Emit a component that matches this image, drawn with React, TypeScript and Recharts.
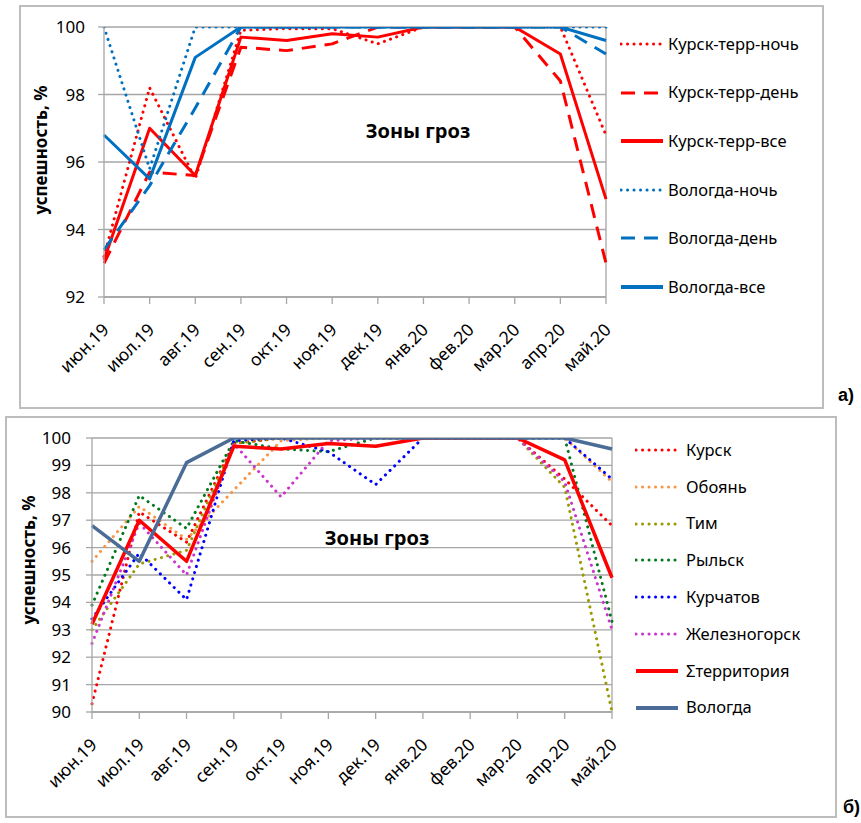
import React from 'react';
import { LineChart, Line, XAxis, YAxis, CartesianGrid, Legend, ReferenceLine, Label } from 'recharts';

// ---------- shared categories ----------
const months = ['июн.19', 'июл.19', 'авг.19', 'сен.19', 'окт.19', 'ноя.19', 'дек.19', 'янв.20', 'фев.20', 'мар.20', 'апр.20', 'май.20'];

// ---------- chart a ----------
const kurskTerrNight = [93.2, 98.2, 95.5, 99.9, 99.95, 99.95, 99.5, 100, 100, 100, 100, 96.8];
const kurskTerrDay = [93.0, 95.7, 95.6, 99.4, 99.3, 99.5, 100, 100, 100, 100, 98.4, 93.0];
const kurskTerrAll = [93.1, 97.0, 95.6, 99.7, 99.6, 99.8, 99.7, 100, 100, 100, 99.2, 94.9];
const vologdaNight = [100, 95.8, 100, 100, 100, 100, 100, 100, 100, 100, 100, 100];
const vologdaDay = [93.4, 95.3, 97.6, 100, 100, 100, 100, 100, 100, 100, 100, 99.2];
const vologdaAll = [96.8, 95.5, 99.1, 100, 100, 100, 100, 100, 100, 100, 100, 99.6];
const ticksA = [92, 94, 96, 98, 100];

// ---------- chart б ----------
const kursk = [90.3, 97.3, 96.2, 99.8, 100, 100, 100, 100, 100, 100, 98.5, 96.8];
const oboyan = [95.5, 97.5, 96.3, 98.1, 99.9, 100, 100, 100, 100, 100, 100, 98.4];
const tim = [93.0, 95.4, 95.9, 99.8, 100, 100, 100, 100, 100, 100, 98.2, 90.0];
const rylsk = [93.9, 97.9, 96.7, 99.9, 99.6, 99.5, 100, 100, 100, 100, 100, 93.3];
const kurchatov = [93.4, 95.8, 94.1, 99.9, 100, 99.5, 98.3, 100, 100, 100, 100, 98.5];
const zheleznogorsk = [92.5, 96.9, 95.0, 99.8, 97.85, 99.9, 100, 100, 100, 100, 98.4, 93.0];
const territory = [93.2, 97.0, 95.5, 99.7, 99.6, 99.8, 99.7, 100, 100, 100, 99.2, 94.9];
const vologda = [96.8, 95.5, 99.1, 100, 100, 100, 100, 100, 100, 100, 100, 99.6];
const ticksB = [90, 91, 92, 93, 94, 95, 96, 97, 98, 99, 100];

const FONT = '"Noto Sans", "DejaVu Sans", sans-serif';
const GRID = '#a6a6a6';
const DOT = '0.1 6.4';
const DASH = '14 9';

type S = { key: string; name: string; color: string; dash?: string; width: number; cap: 'round' | 'butt'; values: number[]; legendWidth?: number };

const seriesA: S[] = [
  { key: 'a1', name: 'Курск-терр-ночь', color: '#ff0000', dash: DOT, width: 3, cap: 'round', values: kurskTerrNight },
  { key: 'a2', name: 'Курск-терр-день', color: '#ff0000', dash: DASH, width: 3, cap: 'butt', values: kurskTerrDay },
  { key: 'a3', name: 'Курск-терр-все', color: '#ff0000', width: 3, cap: 'butt', values: kurskTerrAll, legendWidth: 4 },
  { key: 'a4', name: 'Вологда-ночь', color: '#0070c0', dash: DOT, width: 3, cap: 'round', values: vologdaNight },
  { key: 'a5', name: 'Вологда-день', color: '#0070c0', dash: DASH, width: 3, cap: 'butt', values: vologdaDay },
  { key: 'a6', name: 'Вологда-все', color: '#0070c0', width: 3, cap: 'butt', values: vologdaAll, legendWidth: 4 },
];

const seriesB: S[] = [
  { key: 'b1', name: 'Курск', color: '#ff0000', dash: DOT, width: 3, cap: 'round', values: kursk },
  { key: 'b2', name: 'Обоянь', color: '#f79646', dash: DOT, width: 3, cap: 'round', values: oboyan },
  { key: 'b3', name: 'Тим', color: '#999900', dash: DOT, width: 3, cap: 'round', values: tim },
  { key: 'b4', name: 'Рыльск', color: '#007a1f', dash: DOT, width: 3, cap: 'round', values: rylsk },
  { key: 'b5', name: 'Курчатов', color: '#0000ff', dash: DOT, width: 3, cap: 'round', values: kurchatov },
  { key: 'b6', name: 'Железногорск', color: '#cc33cc', dash: DOT, width: 3, cap: 'round', values: zheleznogorsk },
  { key: 'b7', name: 'Σтерритория', color: '#ff0000', width: 3.5, cap: 'butt', values: territory, legendWidth: 4 },
  { key: 'b8', name: 'Вологда', color: '#4a6c96', width: 3.5, cap: 'butt', values: vologda, legendWidth: 4 },
];

const buildRows = (series: S[]) =>
  months.map((m, i) => {
    const row: Record<string, any> = { month: m };
    series.forEach((s) => (row[s.key] = s.values[i]));
    return row;
  });

const dataA = buildRows(seriesA);
const dataB = buildRows(seriesB);

function XTick(props: any) {
  const { x, y, payload } = props;
  const ax = x + 6;
  const ay = y + 27;
  return (
    <text x={ax} y={ay} transform={`rotate(-45 ${ax} ${ay})`} textAnchor="end" fontFamily={FONT} fontSize={17.5} fill="#000">
      {payload.value}
    </text>
  );
}

function LegendBox({ items, rowH, gap }: { items: S[]; rowH: number; gap: number }) {
  return (
    <div style={{ fontFamily: FONT, fontSize: 16.5, color: '#000', lineHeight: 1 }}>
      {items.map((s) => (
        <div key={s.key} style={{ height: rowH, display: 'flex', alignItems: 'center', whiteSpace: 'nowrap' }}>
          <svg width={44} height={10} style={{ display: 'block' }}>
            <line x1={1} y1={5} x2={43} y2={5} stroke={s.color} strokeWidth={s.legendWidth ?? s.width} strokeDasharray={s.dash} strokeLinecap={s.cap} />
          </svg>
          <span style={{ marginLeft: gap }}>{s.name}</span>
        </div>
      ))}
    </div>
  );
}

function YTitle({ cx, cy }: { cx: number; cy: number }) {
  return (
    <text x={cx} y={cy} transform={`rotate(-90 ${cx} ${cy})`} textAnchor="middle" dominantBaseline="central" fontFamily={FONT} fontWeight="bold" fontSize={17} fill="#000">
      успешность, %
    </text>
  );
}

function PlotTitle({ cx, cy }: { cx: number; cy: number }) {
  return (
    <text x={cx} y={cy} textAnchor="middle" dominantBaseline="central" fontFamily={FONT} fontWeight="bold" fontSize={20} fill="#000">
      Зоны гроз
    </text>
  );
}

function Panel(props: {
  left: number; top: number; width: number; height: number;
  margin: { top: number; right: number; left: number; bottom: number };
  data: any[]; series: S[]; domain: [number, number]; ticks: number[]; tickMargin: number;
  legendLeft: number; legendTop: number; rowH: number; gap: number;
  yTitle: { cx: number; cy: number }; title: { cx: number; cy: number };
}) {
  const p = props;
  return (
    <>
      <div style={{ position: 'absolute', left: p.left - 1, top: p.top - 1, width: p.width + 2, height: p.height + 2, border: '2px solid #bdbdbd', boxSizing: 'border-box', background: '#fff' }} />
      <div style={{ position: 'absolute', left: p.left, top: p.top }}>
        <LineChart width={p.width} height={p.height} data={p.data} margin={p.margin}>
          <CartesianGrid vertical={false} stroke={GRID} strokeWidth={1.3} />
          <XAxis dataKey="month" interval={0} height={80} tick={<XTick />} tickSize={7} tickMargin={0} axisLine={{ stroke: GRID, strokeWidth: 1.3 }} tickLine={{ stroke: GRID, strokeWidth: 1.3 }}>
            <Label content={() => <PlotTitle cx={p.title.cx} cy={p.title.cy} />} />
          </XAxis>
          <YAxis domain={p.domain} ticks={p.ticks} interval={0} width={60} tickSize={6} tickMargin={p.tickMargin} allowDataOverflow axisLine={{ stroke: GRID, strokeWidth: 1.3 }} tickLine={{ stroke: GRID, strokeWidth: 1.3 }} tick={{ fontFamily: FONT, fontSize: 17, fill: '#000' }}>
            <Label content={() => <YTitle cx={p.yTitle.cx} cy={p.yTitle.cy} />} />
          </YAxis>
          <ReferenceLine x={months[months.length - 1]} stroke={GRID} strokeWidth={1.3} />
          {p.series.map((s) => (
            <Line key={s.key} type="linear" dataKey={s.key} name={s.name} stroke={s.color} strokeWidth={s.width} strokeDasharray={s.dash} strokeLinecap={s.cap} strokeLinejoin="round" dot={false} activeDot={false} isAnimationActive={false} />
          ))}
          <Legend layout="vertical" align="center" verticalAlign="middle" wrapperStyle={{ left: p.legendLeft, top: p.legendTop, width: 200 }} content={() => <LegendBox items={p.series} rowH={p.rowH} gap={p.gap} />} />
        </LineChart>
      </div>
    </>
  );
}

export default function App() {
  return (
    <div style={{ position: 'absolute', left: 0, top: 0, width: 861, height: 823, overflow: 'hidden', background: '#fff' }}>
      <Panel
        left={20} top={6} width={803} height={402}
        margin={{ top: 21, right: 217, left: 24, bottom: 31 }}
        data={dataA} series={seriesA} domain={[92, 100]} ticks={ticksA} tickMargin={13}
        legendLeft={600} legendTop={13.7} rowH={48.6} gap={4}
        yTitle={{ cx: 20, cy: 144 }} title={{ cx: 398, cy: 124 }}
      />
      <Panel
        left={6} top={417} width={830} height={400}
        margin={{ top: 21, right: 224, left: 26, bottom: 25 }}
        data={dataB} series={seriesB} domain={[90, 100]} ticks={ticksB} tickMargin={15}
        legendLeft={629} legendTop={14.6} rowH={36.8} gap={7}
        yTitle={{ cx: 22, cy: 143 }} title={{ cx: 371, cy: 120 }}
      />
      <div style={{ position: 'absolute', left: 838, top: 385, fontFamily: '"Liberation Sans", Arial, sans-serif', fontWeight: 'bold', fontSize: 18, color: '#000' }}>a)</div>
      <div style={{ position: 'absolute', left: 843, top: 797, fontFamily: '"Liberation Sans", Arial, sans-serif', fontWeight: 'bold', fontSize: 18, color: '#000' }}>б)</div>
    </div>
  );
}
